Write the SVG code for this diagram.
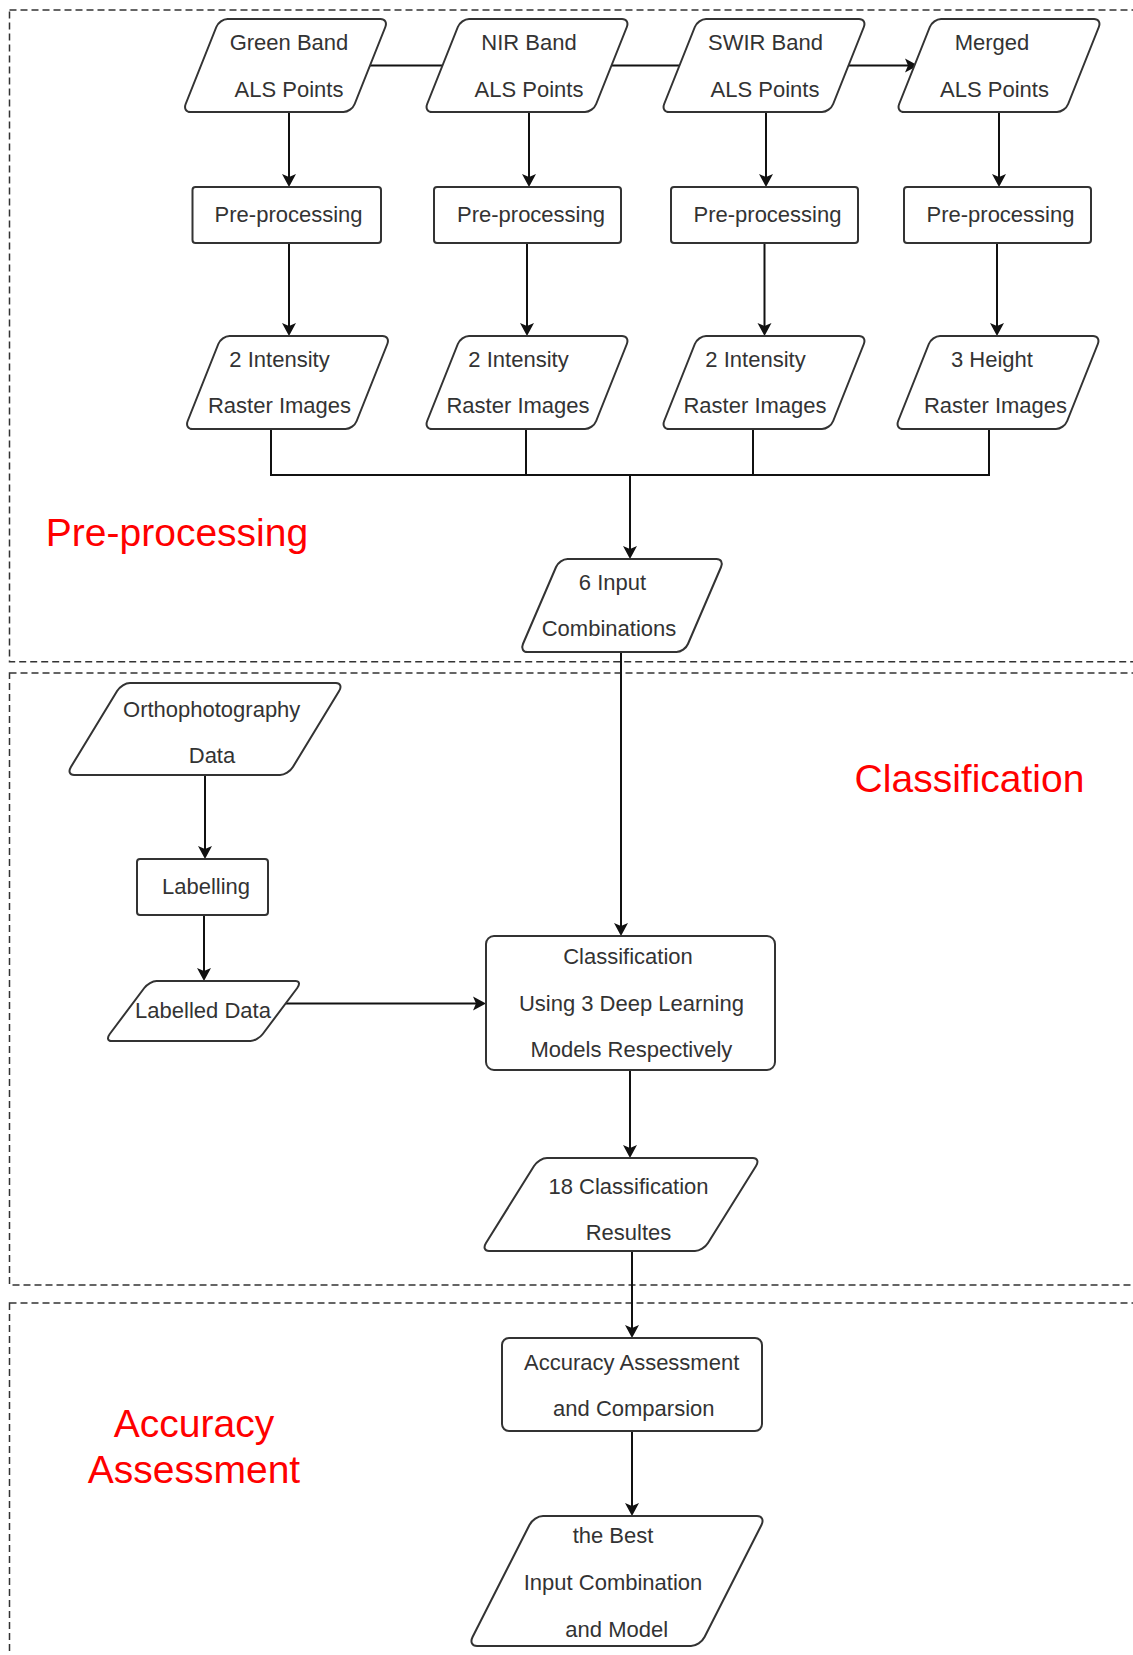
<svg xmlns="http://www.w3.org/2000/svg" width="1133" height="1655" viewBox="0 0 1133 1655">
  <style>
    .sec { fill: none; stroke: #333; stroke-width: 1.5; stroke-dasharray: 7 4; }
    .node { fill: #fff; stroke: #333; stroke-width: 2; }
    .para { vector-effect: non-scaling-stroke; }
    .edge { fill: none; stroke: #111; stroke-width: 2; }
    .arrow { marker-end: url(#head); }
    .lbl { font-family: "Liberation Sans", Arial, sans-serif; font-size: 22px; fill: #333; text-anchor: middle; }
    .title { font-family: "Liberation Sans", Arial, sans-serif; font-size: 39px; fill: #ff0000; text-anchor: middle; }
  </style>
  <defs>
    <marker id="head" markerUnits="userSpaceOnUse" markerWidth="20" markerHeight="18" viewBox="-16 -9 20 18" refX="-4" refY="0" orient="auto">
      <path d="M-13,-7 L0,0 L-13,7 L-10,0 Z" fill="#111"/>
    </marker>
  </defs>
  <rect width="1133" height="1655" fill="#fff"/>

  <!-- dashed stage frames -->
  <g id="sections">
    <rect class="sec" x="9.5" y="10" width="1140" height="651.7"/>
    <rect class="sec" x="9.5" y="673" width="1140" height="612"/>
    <rect class="sec" x="9.5" y="1303" width="1140" height="420"/>
    <text class="title" x="177" y="546">Pre-processing</text>
    <text class="title" x="969.5" y="791.5">Classification</text>
    <text class="title" x="194" y="1436.5">Accuracy</text>
    <text class="title" x="194" y="1483">Assessment</text>
  </g>

  <!-- connectors -->
  <g id="connectors">
    <path class="edge arrow" d="M366.5,65.5 H914"/>
    <path class="edge arrow" d="M289,112 V183"/>
    <path class="edge arrow" d="M529,112 V183"/>
    <path class="edge arrow" d="M766,112 V183"/>
    <path class="edge arrow" d="M999,112 V183"/>
    <path class="edge arrow" d="M289,243 V332"/>
    <path class="edge arrow" d="M527,243 V332"/>
    <path class="edge arrow" d="M764.5,243 V332"/>
    <path class="edge arrow" d="M997,243 V332"/>
    <path class="edge" d="M271,429 V475 H989 V429 M526,429 V475 M753,429 V475"/>
    <path class="edge arrow" d="M630,475 V555"/>
    <path class="edge arrow" d="M621,652 V932"/>
    <path class="edge arrow" d="M205,775 V855"/>
    <path class="edge arrow" d="M204,915 V977"/>
    <path class="edge arrow" d="M283,1003.5 H482"/>
    <path class="edge arrow" d="M630,1070 V1154"/>
    <path class="edge arrow" d="M632,1251 V1334"/>
    <path class="edge arrow" d="M632,1431 V1512"/>
  </g>

  <!-- source point clouds -->
  <g id="green-als">
    <rect class="node para" x="-84.5" y="-46.5" width="169" height="93" rx="8" transform="translate(285.5,65.5) skewX(-21.7)"/>
    <text class="lbl" x="289" y="50">Green Band</text>
    <text class="lbl" x="289" y="96.5">ALS Points</text>
  </g>
  <g id="nir-als">
    <rect class="node para" x="-84.5" y="-46.5" width="169" height="93" rx="8" transform="translate(527,65.5) skewX(-21.7)"/>
    <text class="lbl" x="529" y="50">NIR Band</text>
    <text class="lbl" x="529" y="96.5">ALS Points</text>
  </g>
  <g id="swir-als">
    <rect class="node para" x="-84.5" y="-46.5" width="169" height="93" rx="8" transform="translate(764,65.5) skewX(-21.7)"/>
    <text class="lbl" x="765.5" y="50">SWIR Band</text>
    <text class="lbl" x="765" y="96.5">ALS Points</text>
  </g>
  <g id="merged-als">
    <rect class="node para" x="-84.5" y="-46.5" width="169" height="93" rx="8" transform="translate(999,65.5) skewX(-21.7)"/>
    <text class="lbl" x="992" y="50">Merged</text>
    <text class="lbl" x="994.5" y="96.5">ALS Points</text>
  </g>

  <!-- pre-processing steps -->
  <g id="prep-green">
    <rect class="node" x="192.5" y="187" width="188.5" height="56" rx="3"/>
    <text class="lbl" x="288.6" y="221.5">Pre-processing</text>
  </g>
  <g id="prep-nir">
    <rect class="node" x="434" y="187" width="187" height="56" rx="3"/>
    <text class="lbl" x="531" y="221.5">Pre-processing</text>
  </g>
  <g id="prep-swir">
    <rect class="node" x="671" y="187" width="187" height="56" rx="3"/>
    <text class="lbl" x="767.5" y="221.5">Pre-processing</text>
  </g>
  <g id="prep-merged">
    <rect class="node" x="904" y="187" width="187" height="56" rx="3"/>
    <text class="lbl" x="1000.5" y="221.5">Pre-processing</text>
  </g>

  <!-- raster outputs -->
  <g id="raster-green">
    <rect class="node para" x="-84.5" y="-46.5" width="169" height="93" rx="8" transform="translate(287.5,382.5) skewX(-21.7)"/>
    <text class="lbl" x="279.5" y="367">2 Intensity</text>
    <text class="lbl" x="279.5" y="412.5">Raster Images</text>
  </g>
  <g id="raster-nir">
    <rect class="node para" x="-84.5" y="-46.5" width="169" height="93" rx="8" transform="translate(527,382.5) skewX(-21.7)"/>
    <text class="lbl" x="518.5" y="367">2 Intensity</text>
    <text class="lbl" x="518" y="412.5">Raster Images</text>
  </g>
  <g id="raster-swir">
    <rect class="node para" x="-84.5" y="-46.5" width="169" height="93" rx="8" transform="translate(764,382.5) skewX(-21.7)"/>
    <text class="lbl" x="755.5" y="367">2 Intensity</text>
    <text class="lbl" x="755" y="412.5">Raster Images</text>
  </g>
  <g id="raster-merged">
    <rect class="node para" x="-84.5" y="-46.5" width="169" height="93" rx="8" transform="translate(998,382.5) skewX(-21.7)"/>
    <text class="lbl" x="992" y="367">3 Height</text>
    <text class="lbl" x="995.5" y="412.5">Raster Images</text>
  </g>

  <g id="input-combinations">
    <rect class="node para" x="-82.5" y="-46.5" width="165" height="93" rx="8" transform="translate(622,605.5) skewX(-23.27)"/>
    <text class="lbl" x="612.5" y="590">6 Input</text>
    <text class="lbl" x="609" y="636">Combinations</text>
  </g>

  <!-- classification stage -->
  <g id="ortho-data">
    <rect class="node para" x="-111" y="-46" width="222" height="92" rx="8" transform="translate(205,729) skewX(-31.3)"/>
    <text class="lbl" x="211.7" y="716.5">Orthophotography</text>
    <text class="lbl" x="212" y="763">Data</text>
  </g>
  <g id="labelling">
    <rect class="node" x="137" y="859" width="131" height="56" rx="3"/>
    <text class="lbl" x="206" y="894">Labelling</text>
  </g>
  <g id="labelled-data">
    <rect class="node para" x="-76.5" y="-30" width="153" height="60" rx="7" transform="translate(203.5,1011) skewX(-36.87)"/>
    <text class="lbl" x="203" y="1018">Labelled Data</text>
  </g>
  <g id="classification">
    <rect class="node" x="486" y="936" width="289" height="134" rx="8"/>
    <text class="lbl" x="628" y="964">Classification</text>
    <text class="lbl" x="631.4" y="1010.5">Using 3 Deep Learning</text>
    <text class="lbl" x="631.4" y="1057">Models Respectively</text>
  </g>
  <g id="classification-results">
    <rect class="node para" x="-111" y="-46.5" width="222" height="93" rx="8" transform="translate(621,1204.5) skewX(-31.95)"/>
    <text class="lbl" x="628.5" y="1193.5">18 Classification</text>
    <text class="lbl" x="628.5" y="1240">Resultes</text>
  </g>

  <!-- accuracy stage -->
  <g id="accuracy">
    <rect class="node" x="502" y="1338" width="260" height="93" rx="7"/>
    <text class="lbl" x="631.7" y="1370">Accuracy Assessment</text>
    <text class="lbl" x="633.8" y="1416">and Comparsion</text>
  </g>
  <g id="best-result">
    <rect class="node para" x="-116" y="-65" width="232" height="130" rx="9" transform="translate(617,1581) skewX(-26.92)"/>
    <text class="lbl" x="613" y="1543.3">the Best</text>
    <text class="lbl" x="613" y="1590">Input Combination</text>
    <text class="lbl" x="616.7" y="1636.7">and Model</text>
  </g>
</svg>
